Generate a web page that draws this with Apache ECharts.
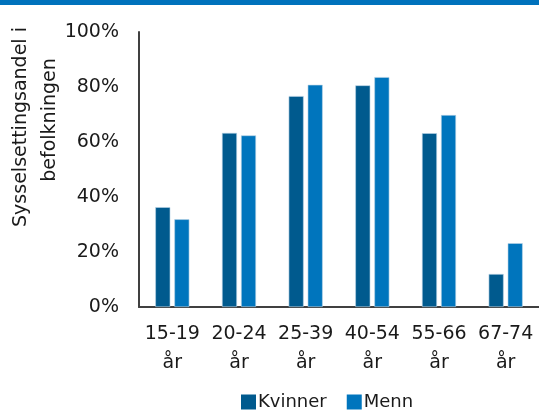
<!DOCTYPE html>
<html>
<head>
<meta charset="utf-8">
<script src="https://cdn.jsdelivr.net/npm/echarts@6/dist/echarts.min.js"></script>
<style>
  html, body { margin: 0; padding: 0; background: #fff; }
  #chart { width: 539px; height: 410px; }
</style>
</head>
<body>
<div id="chart"></div>
<script>
// Age groups and employment share (%) per sex
const categories = ['15-19\når', '20-24\når', '25-39\når', '40-54\når', '55-66\når', '67-74\når'];
const kvinner = [36.3, 63.3, 76.7, 80.6, 63.2, 12.0];
const menn = [31.9, 62.4, 80.8, 83.6, 69.8, 23.2];
const yTicks = [0, 20, 40, 60, 80, 100];

const FONT = 'DejaVu Sans';
const chart = echarts.init(document.getElementById('chart'), null, { renderer: 'canvas' });

chart.setOption({
  animation: false,
  backgroundColor: '#ffffff',
  textStyle: { fontFamily: FONT, color: '#1a1a1a' },
  grid: { left: 139, right: 0, top: 32, bottom: 103, containLabel: false },
  legend: {
    top: 393,
    padding: 0,
    left: 241,
    itemWidth: 15,
    itemHeight: 15,
    itemGap: 20,
    icon: 'rect',
    itemStyle: { borderWidth: 0 },
    textStyle: { fontFamily: FONT, fontSize: 18, color: '#1a1a1a', padding: [0, 0, 0, -3] },
    data: ['Kvinner', 'Menn']
  },
  graphic: [
    { type: 'rect', left: 0, top: 0, shape: { width: 539, height: 5 }, style: { fill: '#0072BC' } },
    {
      type: 'text', x: 21, y: 127, rotation: Math.PI / 2,
      style: { text: 'Sysselsettingsandel i', fontFamily: FONT, fontSize: 19, fill: '#1a1a1a', textAlign: 'center', textVerticalAlign: 'middle' }
    },
    {
      type: 'text', x: 50, y: 120, rotation: Math.PI / 2,
      style: { text: 'befolkningen', fontFamily: FONT, fontSize: 19, fill: '#1a1a1a', textAlign: 'center', textVerticalAlign: 'middle' }
    }
  ],
  xAxis: {
    type: 'category',
    data: categories,
    axisLine: { lineStyle: { color: '#404040', width: 2 } },
    axisTick: { show: false },
    axisLabel: { fontFamily: FONT, fontSize: 19, color: '#1a1a1a', lineHeight: 29, margin: 13, interval: 0 }
  },
  yAxis: {
    type: 'value',
    min: yTicks[0],
    max: yTicks[yTicks.length - 1],
    interval: 20,
    splitLine: { show: false },
    axisLine: { show: true, lineStyle: { color: '#404040', width: 2 } },
    axisTick: { show: false },
    axisLabel: { fontFamily: FONT, fontSize: 19, color: '#1a1a1a', margin: 20, formatter: '{value}%' }
  },
  series: [
    {
      name: 'Kvinner', type: 'bar', data: kvinner,
      barWidth: 15, barGap: '27%',
      itemStyle: { color: '#005A8E', borderColor: '#b9d3e6', borderWidth: 0.6 }
    },
    {
      name: 'Menn', type: 'bar', data: menn,
      barWidth: 15,
      itemStyle: { color: '#0075BD', borderColor: '#b9d3e6', borderWidth: 0.6 }
    }
  ]
});
</script>
</body>
</html>
